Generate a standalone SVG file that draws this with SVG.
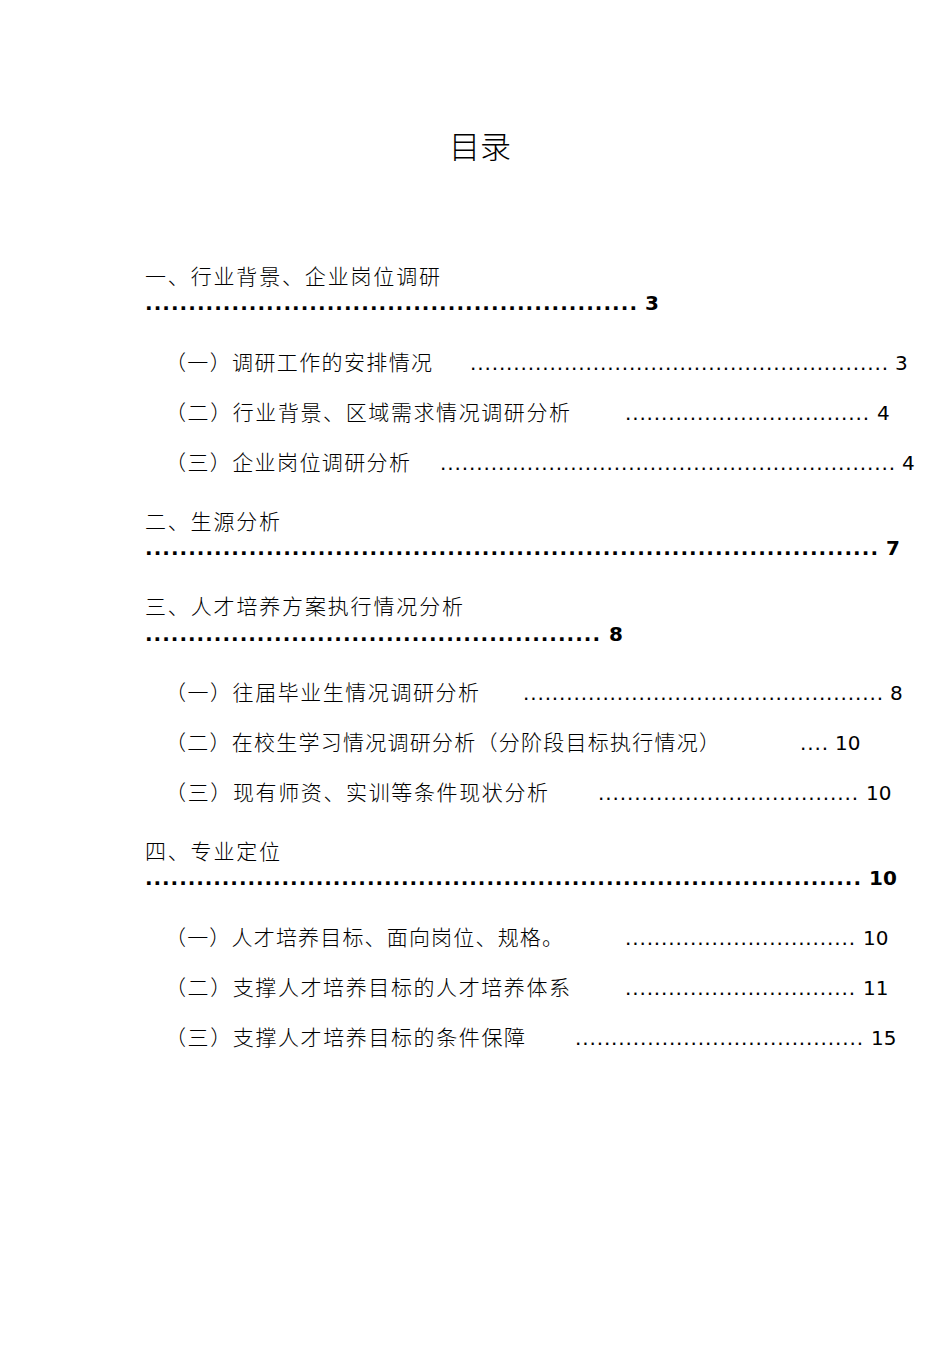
<svg xmlns="http://www.w3.org/2000/svg" width="950" height="1345" viewBox="0 0 950 1345">
<style>
text{font-family:"DejaVu Sans","Noto Sans CJK SC",sans-serif;fill:#000;font-size:20px}
.h{font-family:"Noto Sans CJK SC","DejaVu Sans",sans-serif;font-size:21px;font-weight:300}
.b{font-weight:bold}
</style>
<rect width="950" height="1345" fill="#fff"/>
<text x="480" y="158" text-anchor="middle" class="h" style="font-size:31px">目录</text>

<text x="145" y="284" class="h" textLength="295" lengthAdjust="spacing">一、行业背景、企业岗位调研</text>
<text x="145" y="310" class="b" textLength="492" lengthAdjust="spacing">.........................................................</text>
<text x="645" y="310" class="b">3</text>

<text x="165" y="370" class="h" textLength="267" lengthAdjust="spacing">（一）调研工作的安排情况</text>
<text x="470" y="370" textLength="418" lengthAdjust="spacing">..........................................................</text>
<text x="895" y="370">3</text>

<text x="165" y="420" class="h" textLength="405" lengthAdjust="spacing">（二）行业背景、区域需求情况调研分析</text>
<text x="625" y="420" textLength="244" lengthAdjust="spacing">..................................</text>
<text x="877" y="420">4</text>

<text x="165" y="470" class="h" textLength="245" lengthAdjust="spacing">（三）企业岗位调研分析</text>
<text x="440" y="470" textLength="455" lengthAdjust="spacing">...............................................................</text>
<text x="902" y="470">4</text>

<text x="145" y="529" class="h" textLength="135" lengthAdjust="spacing">二、生源分析</text>
<text x="145" y="555" class="b" textLength="733" lengthAdjust="spacing">.....................................................................................</text>
<text x="886" y="555" class="b">7</text>

<text x="145" y="614" class="h" textLength="318" lengthAdjust="spacing">三、人才培养方案执行情况分析</text>
<text x="145" y="641" class="b" textLength="455" lengthAdjust="spacing">.....................................................</text>
<text x="609" y="641" class="b">8</text>

<text x="165" y="700" class="h" textLength="314" lengthAdjust="spacing">（一）往届毕业生情况调研分析</text>
<text x="523" y="700" textLength="360" lengthAdjust="spacing">..................................................</text>
<text x="890" y="700">8</text>

<text x="165" y="750" class="h" textLength="555" lengthAdjust="spacing">（二）在校生学习情况调研分析（分阶段目标执行情况）</text>
<text x="800" y="750" textLength="28" lengthAdjust="spacing">....</text>
<text x="835" y="750">10</text>

<text x="165" y="800" class="h" textLength="383" lengthAdjust="spacing">（三）现有师资、实训等条件现状分析</text>
<text x="598" y="800" textLength="260" lengthAdjust="spacing">....................................</text>
<text x="866" y="800">10</text>

<text x="145" y="859" class="h" textLength="135" lengthAdjust="spacing">四、专业定位</text>
<text x="145" y="885" class="b" textLength="716" lengthAdjust="spacing">....................................................................................</text>
<text x="869" y="885" class="b">10</text>

<text x="165" y="945" class="h" textLength="398" lengthAdjust="spacing">（一）人才培养目标、面向岗位、规格。</text>
<text x="625" y="945" textLength="230" lengthAdjust="spacing">................................</text>
<text x="863" y="945">10</text>

<text x="165" y="995" class="h" textLength="405" lengthAdjust="spacing">（二）支撑人才培养目标的人才培养体系</text>
<text x="625" y="995" textLength="230" lengthAdjust="spacing">................................</text>
<text x="863" y="995">11</text>

<text x="165" y="1045" class="h" textLength="360" lengthAdjust="spacing">（三）支撑人才培养目标的条件保障</text>
<text x="575" y="1045" textLength="288" lengthAdjust="spacing">........................................</text>
<text x="871" y="1045">15</text>
</svg>
